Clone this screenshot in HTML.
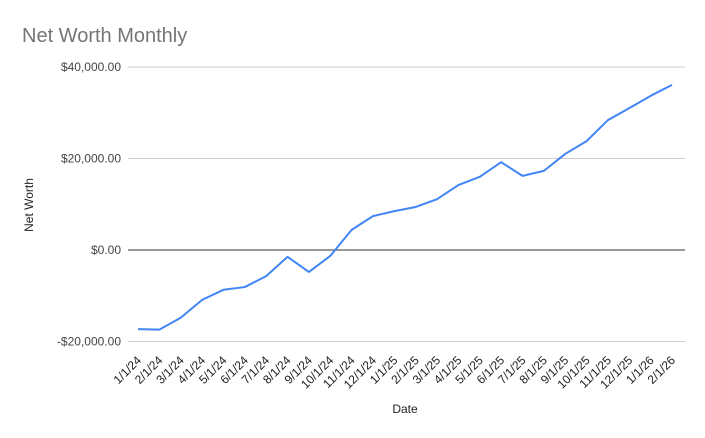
<!DOCTYPE html>
<html><head><meta charset="utf-8"><style>
body{margin:0;background:#fff;font-family:"Liberation Sans",Arial,sans-serif}
svg{display:block}
</style></head><body>
<svg id="chart" width="705" height="438">
<rect width="705" height="438" fill="#fff"/>
<text x="22" y="42" font-size="20" fill="#757575">Net Worth Monthly</text>
<g id="grid"></g><g id="xl"></g><g id="line"></g>
<text transform="translate(33,205) rotate(-90)" text-anchor="middle" font-size="12" fill="#222">Net Worth</text>
<text x="405" y="413" text-anchor="middle" font-size="12" fill="#222">Date</text>
</svg>
<script>
const categories=["1/1/24","2/1/24","3/1/24","4/1/24","5/1/24","6/1/24","7/1/24","8/1/24","9/1/24","10/1/24","11/1/24","12/1/24","1/1/25","2/1/25","3/1/25","4/1/25","5/1/25","6/1/25","7/1/25","8/1/25","9/1/25","10/1/25","11/1/25","12/1/25","1/1/26","2/1/26"];
const values=[-17300,-17400,-14800,-10900,-8700,-8100,-5700,-1500,-4800,-1300,4400,7400,8500,9400,11100,14200,16000,19200,16200,17300,21000,23800,28400,31000,33700,36100];
const yTicks=[-20000,0,20000,40000];
const yTickLabels=["-$20,000.00","$0.00","$20,000.00","$40,000.00"];
const NS="http://www.w3.org/2000/svg";
const y=v=>250-v/20000*91.5;
const x=i=>138+i*(672-138)/(categories.length-1);
function mk(t,a,p){const e=document.createElementNS(NS,t);for(const k in a)e.setAttribute(k,a[k]);p.appendChild(e);return e;}
const g=document.getElementById('grid');
yTicks.forEach((t,i)=>{
 const l=mk('line',{x1:128,x2:685,y1:y(t),y2:y(t),stroke:t===0?'#333':'#ccc','stroke-width':1},g);
 
 
 const tx=mk('text',{x:121,y:y(t)+4,'text-anchor':'end','font-size':12,fill:'#444'},g);
 tx.textContent=yTickLabels[i];
 
 
});
const xl=document.getElementById('xl');
categories.forEach((c,i)=>{
 const t=mk('text',{transform:`translate(${x(i)+4},${361}) rotate(-45)`,'text-anchor':'end','font-size':12,fill:'#222'},xl);
 t.textContent=c;
 
 
});
const p=mk('polyline',{points:values.map((v,i)=>x(i)+','+y(v)).join(' '),fill:'none',stroke:'#4285f4','stroke-width':2,'stroke-linejoin':'round'},document.getElementById('line'));


</script>
</body></html>
